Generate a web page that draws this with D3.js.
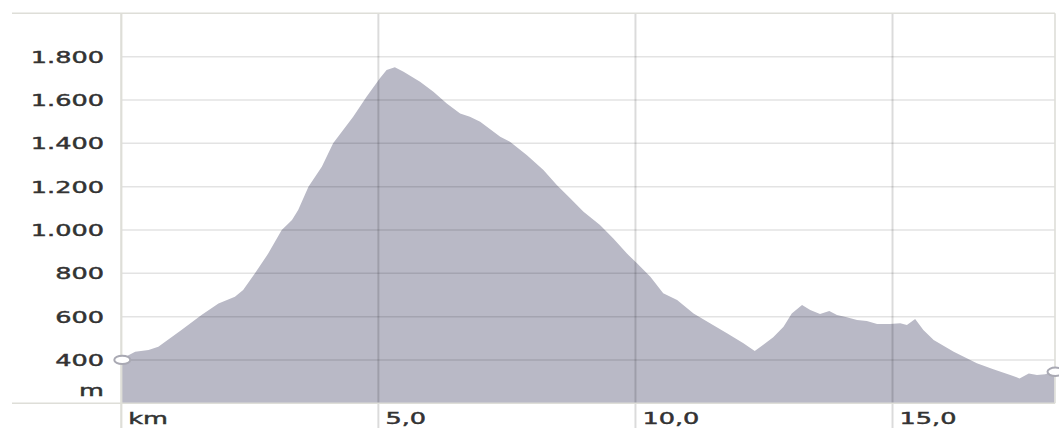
<!DOCTYPE html>
<html>
<head>
<meta charset="utf-8">
<script src="https://cdn.jsdelivr.net/npm/d3@7"></script>
<style>
  html, body { margin: 0; padding: 0; background: #fff; }
  svg { display: block; }
  text { font-family: "DejaVu Sans", sans-serif; font-size: 16.5px; fill: #333; stroke: #333; stroke-width: 0.45px; }
</style>
</head>
<body>
<svg id="chart" width="1059" height="428"></svg>
<script>
// Distance along the route (km)
const distanceKm = [0, 0.27, 0.53, 0.72, 1.17, 1.56, 1.89, 2.21, 2.37, 2.60, 2.86, 3.12, 3.32, 3.44, 3.64, 3.90,
  4.12, 4.51, 4.77, 5.03, 5.16, 5.32, 5.49, 5.81, 6.07, 6.33, 6.59, 6.78, 6.98, 7.37, 7.56, 7.89,
  8.21, 8.47, 8.73, 8.99, 9.31, 9.57, 9.83, 10.03, 10.29, 10.54, 10.81, 11.13, 11.45, 11.78, 12.10,
  12.32, 12.68, 12.88, 13.04, 13.24, 13.40, 13.59, 13.77, 13.92, 14.11, 14.31, 14.50, 14.70, 14.95,
  15.15, 15.28, 15.44, 15.60, 15.80, 16.19, 16.64, 16.96, 17.29, 17.47, 17.65, 17.81, 17.97, 18.15];
// Elevation (m)
const elevationM = [405, 438, 446, 461, 538, 607, 661, 692, 723, 800, 892, 1000, 1046, 1092, 1200, 1292,
  1400, 1523, 1615, 1700, 1738, 1751, 1730, 1684, 1638, 1584, 1538, 1523, 1500, 1430, 1407, 1345,
  1277, 1207, 1146, 1084, 1023, 961, 892, 846, 784, 708, 677, 615, 569, 523, 477,
  441, 505, 553, 615, 654, 631, 612, 626, 607, 597, 584, 580, 566, 566,
  569, 561, 589, 538, 492, 438, 385, 357, 331, 315, 338, 331, 334, 350];
const yTicks = [400, 600, 800, 1000, 1200, 1400, 1600, 1800];
const xTicks = [5, 10, 15];
const yUnit = "m";
const xUnit = "km";
const xDomain = [0, 18.16];
const yDomain = [200, 2000];

const data = distanceKm.map((d, i) => ({ km: d, m: elevationM[i] }));

const svg = d3.select("#chart");
const pLeft = 121.3, pRight = 1055, pTop = 13.3, pBottom = 403.3;
const frameLeft = 12;
const TX = 1.55; // horizontal text stretch

const x = d3.scaleLinear().domain(xDomain).range([pLeft, pRight]);
const y = d3.scaleLinear().domain(yDomain).range([pBottom, pTop]);

const de = d3.formatLocale({ decimal: ",", thousands: ".", grouping: [3], currency: ["", "€"] });
const fmtY = de.format(",");
const fmtX = de.format(".1f");

// Area
const area = d3.area().x(d => x(d.km)).y0(y(yDomain[0])).y1(d => y(d.m)).curve(d3.curveLinear);
svg.append("path").datum(data).attr("d", area).attr("fill", "#b9b9c6");

// Horizontal gridlines
svg.append("g").selectAll("line").data(yTicks).join("line")
  .attr("x1", pLeft).attr("x2", pRight)
  .attr("y1", d => y(d)).attr("y2", d => y(d))
  .attr("stroke", "rgba(0,0,0,0.11)").attr("stroke-width", 1.5);

// Vertical gridlines
svg.append("g").selectAll("line").data(xTicks).join("line")
  .attr("x1", d => x(d)).attr("x2", d => x(d))
  .attr("y1", pTop).attr("y2", 428)
  .attr("stroke", "rgba(0,0,0,0.14)").attr("stroke-width", 2);

// Frame lines
const frame = svg.append("g").attr("stroke", "#deded8").attr("stroke-width", 1.6);
frame.append("line").attr("x1", frameLeft).attr("x2", pRight).attr("y1", pTop).attr("y2", pTop);
frame.append("line").attr("x1", frameLeft).attr("x2", pRight).attr("y1", pBottom).attr("y2", pBottom);
frame.append("line").attr("x1", pRight).attr("x2", pRight).attr("y1", pTop).attr("y2", pBottom);
frame.append("line").attr("x1", pLeft).attr("x2", pLeft).attr("y1", pTop).attr("y2", 428).attr("stroke-width", 2.2);

// Start / end markers
const ends = [data[0], data[data.length - 1]];
svg.append("g").selectAll("ellipse").data(ends).join("ellipse")
  .attr("cx", d => x(d.km) + 1).attr("cy", d => y(d.m) + 1)
  .attr("rx", 8).attr("ry", 4.2)
  .attr("fill", "#fff").attr("stroke", "#a9a9b3").attr("stroke-width", 2);

// Y tick labels
svg.append("g").selectAll("text").data(yTicks).join("text")
  .attr("transform", d => `translate(104,${y(d)}) scale(${TX},1)`)
  .attr("text-anchor", "end").attr("dy", "0.36em")
  .text(d => fmtY(d));
svg.append("text")
  .attr("transform", `translate(104,${y(yDomain[0]) - 13}) scale(${TX},1)`)
  .attr("text-anchor", "end").attr("dy", "0.36em")
  .text(yUnit);

// X tick labels
svg.append("g").selectAll("text").data(xTicks).join("text")
  .attr("transform", d => `translate(${x(d) + 7},424) scale(${TX},1)`)
  .attr("text-anchor", "start")
  .text(d => fmtX(d));
svg.append("text")
  .attr("transform", `translate(${x(0) + 7},424) scale(${TX},1)`)
  .attr("text-anchor", "start")
  .text(xUnit);
</script>
</body>
</html>
